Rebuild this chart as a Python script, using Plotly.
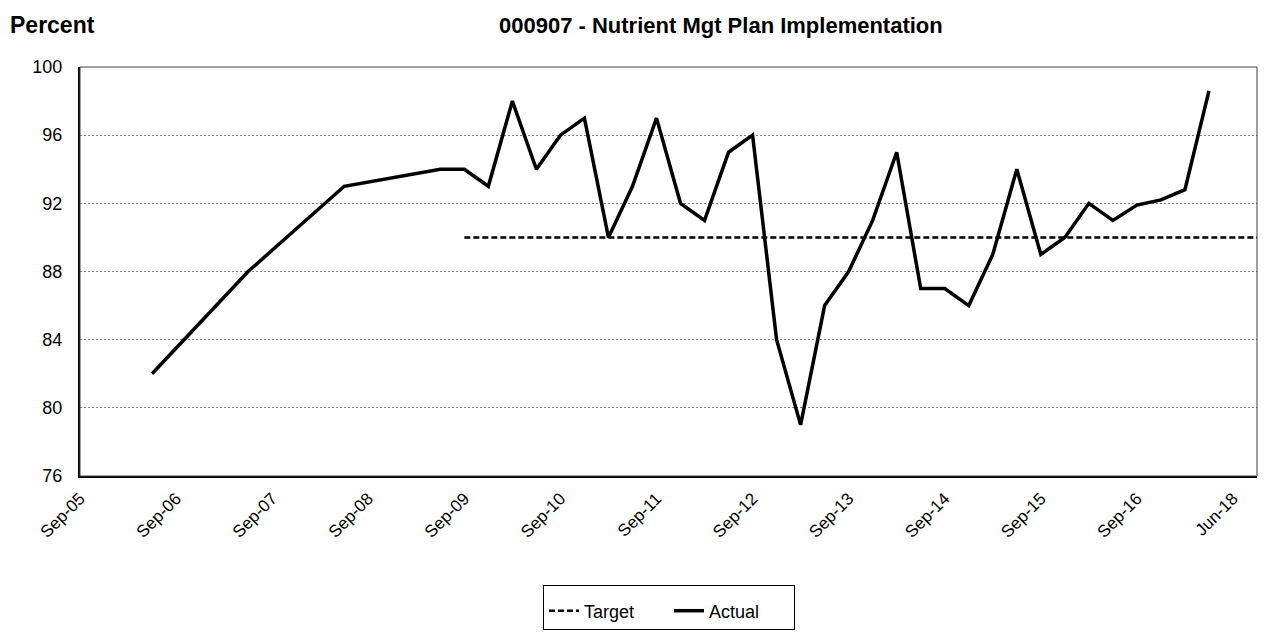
import plotly.graph_objects as go

# Category labels (quarterly periods), one per category slot on the axis
categories = [
    "Sep-05", "Dec-05", "Mar-06", "Jun-06",
    "Sep-06", "Dec-06", "Mar-07", "Jun-07",
    "Sep-07", "Dec-07", "Mar-08", "Jun-08",
    "Sep-08", "Dec-08", "Mar-09", "Jun-09",
    "Sep-09", "Dec-09", "Mar-10", "Jun-10",
    "Sep-10", "Dec-10", "Mar-11", "Jun-11",
    "Sep-11", "Dec-11", "Mar-12", "Jun-12",
    "Sep-12", "Dec-12", "Mar-13", "Jun-13",
    "Sep-13", "Dec-13", "Mar-14", "Jun-14",
    "Sep-14", "Dec-14", "Mar-15", "Jun-15",
    "Sep-15", "Dec-15", "Mar-16", "Jun-16",
    "Sep-16", "Dec-16", "Mar-17", "Sep-17",
    "Jun-18", "Sep-18",
]

# Actual values (None = no data for that period; line connects across gaps)
actual = [
    None, None, None, 82,
    None, None, None, 88,
    None, None, None, 93,
    None, None, None, 94,
    94, 93, 98, 94,
    96, 97, 90, 93,
    97, 92, 91, 95,
    96, 84, 79, 86,
    88, 91, 95, 87,
    87, 86, 89, 94,
    89, 90, 92, 91,
    91.9, 92.2, 92.8, 98.6,
    None, None,
]

# Target values
target = [None] * 16 + [90] * 34

y_ticks = [76, 80, 84, 88, 92, 96, 100]

# page body has an 8px default margin; figure is sized/offset to compensate
W, H = 1267, 624
L, R, T, B = 72, 18, 59, 156
plot_w = W - L - R
plot_h = H - T - B

fig = go.Figure()
fig.add_trace(go.Scatter(
    x=categories, y=target, name="Target", mode="lines",
    line=dict(color="black", width=2.5, dash="6px,3px"),
    connectgaps=True,
))
fig.add_trace(go.Scatter(
    x=categories, y=actual, name="Actual", mode="lines",
    line=dict(color="black", width=3.5),
    connectgaps=True,
))

font_family = "Liberation Sans, Arial, sans-serif"

fig.update_layout(
    width=W, height=H,
    margin=dict(l=L, r=R, t=T, b=B, autoexpand=False),
    paper_bgcolor="white", plot_bgcolor="white",
    font=dict(family=font_family, size=17, color="black"),
    showlegend=True,
    legend=dict(
        orientation="h", x=(543 - 8 - L) / plot_w, xanchor="left",
        y=-(585 - 8 - T - plot_h) / plot_h, yanchor="top",
        bordercolor="black", borderwidth=1, bgcolor="white",
        font=dict(size=18), traceorder="normal",
        entrywidth=80, entrywidthmode="pixels", itemwidth=30,
        title=dict(text="&nbsp;", side="top", font=dict(size=5)),
    ),
    annotations=[
        dict(text="<b>Percent</b>", xref="paper", yref="paper",
             x=-(L) / plot_w, y=1 + (T - 17) / plot_h, xanchor="left", yanchor="middle",
             showarrow=False, font=dict(size=23)),
        dict(text="<b>000907 - Nutrient Mgt Plan Implementation</b>",
             xref="paper", yref="paper", x=(721 - 8 - L) / plot_w, y=1 + (T - 17) / plot_h,
             xanchor="center", yanchor="middle", showarrow=False,
             font=dict(size=22)),
    ],
    shapes=[
        dict(type="rect", xref="x domain", yref="y domain",
             x0=0, x1=1, y0=0, y1=1, line=dict(color="#404040", width=1),
             layer="above"),
    ],
)

fig.update_xaxes(
    type="category", range=[0, len(categories) - 1],
    tickmode="linear", tick0=0, dtick=4, tickangle=-45,
    showgrid=False, showline=True, linecolor="black", linewidth=2,
    ticks="outside", ticklen=4, tickcolor="rgba(0,0,0,0)", tickfont=dict(size=17),
)
fig.update_yaxes(
    range=[76, 100], tickvals=y_ticks,
    showgrid=True, gridcolor="#808080", gridwidth=1, griddash="2px,2px",
    showline=True, linecolor="black", linewidth=2,
    ticks="outside", ticklen=12, tickcolor="rgba(0,0,0,0)",
    tickfont=dict(size=18), zeroline=False,
)

fig.write_html("out.html")
